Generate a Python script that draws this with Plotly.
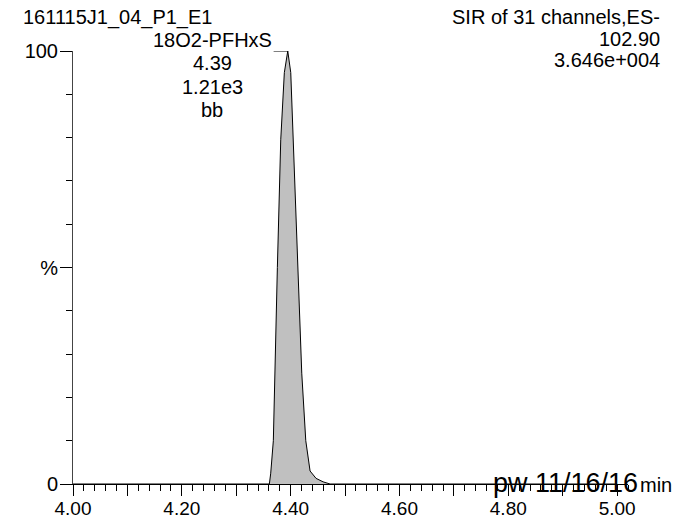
import plotly.graph_objects as go

# Data (time in min, relative intensity in %)
peak_time = [4.000, 4.3609, 4.3634, 4.3682, 4.3756, 4.3818, 4.3884, 4.3947,
             4.4002, 4.4050, 4.4142, 4.4204, 4.4278, 4.4357, 4.4467, 4.4596,
             4.4724, 5.000]
peak_intensity = [0, 0, 2.5, 10, 50, 79.5, 95, 100,
                  95, 79.5, 50, 25.6, 10, 3, 1.3, 0.5,
                  0, 0]

x_ticks = [4.0, 4.1, 4.2, 4.3, 4.4, 4.5, 4.6, 4.7, 4.8, 4.9, 5.0]
x_tick_labels = ["4.00", "", "4.20", "", "4.40", "", "4.60", "", "4.80", "", "5.00"]
y_ticks = [0, 50, 100]
y_tick_labels = ["0", "%", "100"]
y_minor = [10, 20, 30, 40, 60, 70, 80, 90]

sample_name = "161115J1_04_P1_E1"
compound_label = ["18O2-PFHxS", "4.39", "1.21e3", "bb"]
header_right = ["SIR of 31 channels,ES-", "102.90", "3.646e+004"]
apex_time = 4.3947

W, H = 687, 519
PLOT_L, PLOT_T, PLOT_R, PLOT_B = 73, 51, 628, 484   # plot area in window pixels
PW, PH = PLOT_R - PLOT_L, PLOT_B - PLOT_T
L, T = PLOT_L, PLOT_T
R, B = W - L - PW, H - T - PH


def px(xp):
    return (xp - PLOT_L) / PW


def py(yp):
    return (PLOT_B - yp) / PH


FONT = "Liberation Sans, Arial, Helvetica, sans-serif"
FS = 20

fig = go.Figure()
fig.add_trace(go.Scatter(
    x=peak_time, y=peak_intensity, mode="lines",
    line=dict(color="black", width=1),
    fill="tozeroy", fillcolor="#c0c0c0",
    cliponaxis=False, hoverinfo="skip", showlegend=False,
))

# leader line from label to apex
fig.add_shape(type="line", xref="x", yref="y",
              x0=apex_time - 0.026, x1=apex_time, y0=100, y1=100,
              line=dict(color="black", width=1))

ann = []
ann.append(dict(text=sample_name, x=px(22), y=py(17), xanchor="left", yanchor="middle",
                font=dict(size=FS)))
for i, t in enumerate(compound_label):
    ann.append(dict(text=t, x=px(212), y=py(40.5 + 23 * i), xanchor="center", yanchor="middle",
                    font=dict(size=FS)))
for i, t in enumerate(header_right):
    ann.append(dict(text=t, x=px(661), y=py(17 + 21.5 * i), xanchor="right", yanchor="middle",
                    font=dict(size=FS)))
ann.append(dict(text="min", x=px(639), y=py(485), xanchor="left", yanchor="middle",
                font=dict(size=FS)))
ann.append(dict(text="pw 11/16/16", x=px(492), y=py(483), xanchor="left", yanchor="middle",
                font=dict(size=27)))
for a in ann:
    a.update(xref="paper", yref="paper", showarrow=False, borderpad=0)
    a["font"].update(color="black", family=FONT)

fig.update_layout(
    width=W, height=H,
    margin=dict(l=L, r=R, t=T, b=B, autoexpand=False),
    paper_bgcolor="white", plot_bgcolor="white",
    font=dict(family=FONT, size=FS, color="black"),
    annotations=ann,
    xaxis=dict(range=[4.0, 5.02], showgrid=False, zeroline=False, automargin=False,
               showline=True, linecolor="black", linewidth=1,
               ticks="outside", ticklen=11, tickwidth=1, tickcolor="black",
               tickvals=x_ticks, ticktext=x_tick_labels,
               tickfont=dict(size=19), ticklabelstandoff=-4,
               minor=dict(dtick=0.02, tick0=4.0, ticks="outside", ticklen=6,
                          tickcolor="black", tickwidth=1, showgrid=False)),
    yaxis=dict(range=[0, 100], showgrid=False, zeroline=False, automargin=False,
               showline=True, linecolor="#444444", linewidth=1,
               ticks="outside", ticklen=12, tickwidth=1, tickcolor="black",
               tickvals=y_ticks, ticktext=y_tick_labels,
               tickfont=dict(size=FS), ticklabelstandoff=-2,
               minor=dict(tickvals=y_minor, ticks="outside", ticklen=6,
                          tickcolor="black", tickwidth=1, showgrid=False)),
)

fig.write_html("out.html",
               config={"displayModeBar": False},
               post_script="document.body.style.margin='0';document.body.style.overflow='hidden';")
